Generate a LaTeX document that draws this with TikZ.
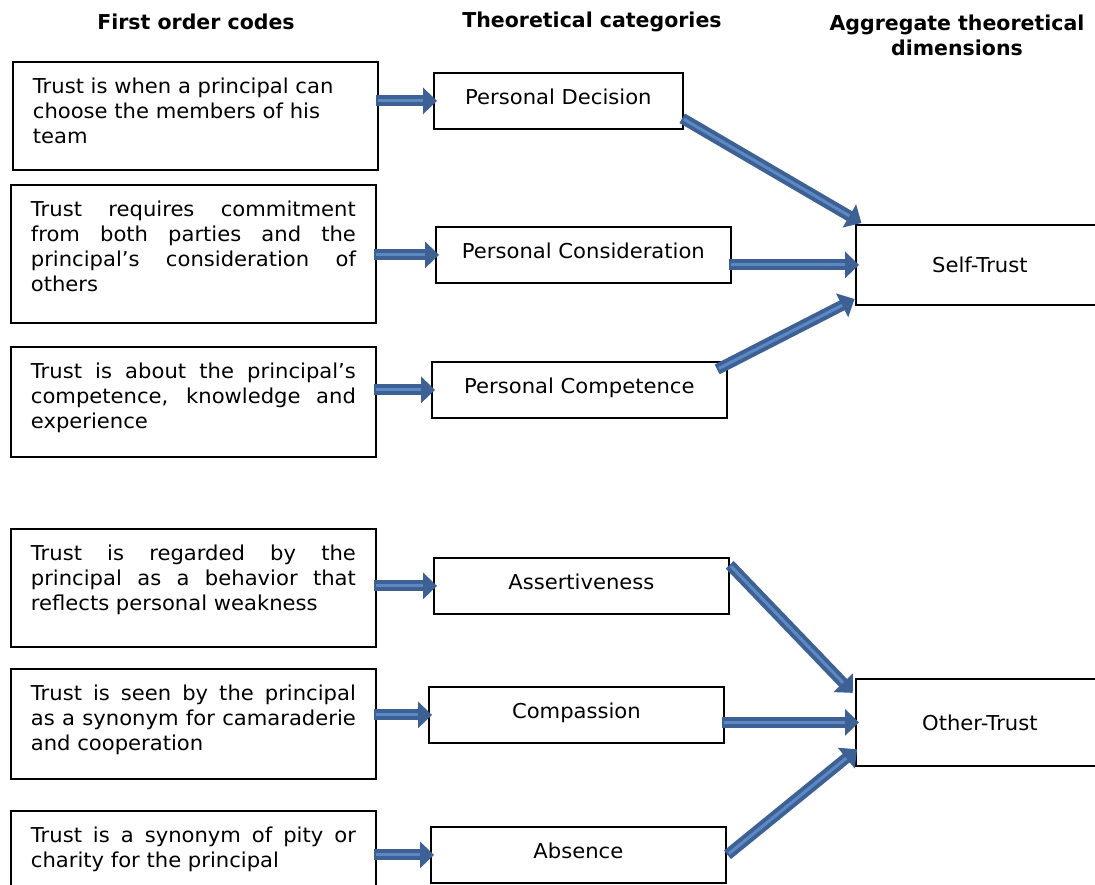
\documentclass[tikz,border=0pt]{standalone}
\usepackage{fontspec}
\setmainfont{DejaVu Sans}[UprightFeatures={FakeStretch=1.03}]
\usetikzlibrary{arrows.meta,positioning}
\definecolor{arrowdark}{HTML}{3D6195}
\definecolor{arrowlight}{HTML}{5D89C3}

\begin{document}
\begin{tikzpicture}[x=1pt,y=-1pt,
    every node/.style={font=\fontsize{20.5}{25}\selectfont},
    head/.style={font=\fontsize{20.5}{25}\selectfont\bfseries,align=center},
    codebox/.style={draw,line width=1.8pt,anchor=north west,inner xsep=20pt,inner ysep=14pt},
    catbox/.style={draw,line width=1.8pt,anchor=north west,minimum width=295pt,
      inner ysep=0pt,text height=32pt,text depth=24pt},
    dimbox/.style={draw,line width=1.8pt,anchor=north west,minimum width=248pt},
    flow/.style={line width=11pt,arrowdark,-{Triangle[length=14pt,width=26pt]},
      shorten <=-3pt,shorten >=-4pt,
      postaction={draw=arrowlight,line width=3pt,-,shorten <=-1pt,shorten >=10pt}}]
  \useasboundingbox (0,0) rectangle (1095,885);
  \clip (0,0) rectangle (1095,885);

  % column heads
  \node(h1) at (196,22) [head] {First order codes};
  \node(h2) at (592,22) [head] {Theoretical categories};
  \node(h3) at (957,35) [head] {Aggregate theoretical\\dimensions};

  % first order codes
  \node(c1) at (12,61) [codebox] {\parbox[t][80pt][t]{325pt}{\raggedright\strut Trust is when a principal can\\ choose the members of his\\ team}};
  \node(c2) at (10,184) [codebox] {\parbox[t][110pt][t]{325pt}{\strut Trust requires commitment\linebreak from both parties and the\linebreak principal’s consideration of\linebreak others}};
  \node(c3) at (10,346) [codebox] {\parbox[t][82pt][t]{325pt}{\strut Trust is about the principal’s\linebreak competence, knowledge and\linebreak experience}};
  \node(c4) at (10,528) [codebox] {\parbox[t][90pt][t]{325pt}{\strut Trust is regarded by the\linebreak principal as a behavior that\linebreak reflects personal weakness}};
  \node(c5) at (10,668) [codebox] {\parbox[t][82pt][t]{325pt}{\strut Trust is seen by the principal\linebreak as a synonym for camaraderie\linebreak and cooperation}};
  \node(c6) at (10,810) [codebox] {\parbox[t][82pt][t]{325pt}{\strut Trust is a synonym of pity or\linebreak charity for the principal}};

  % theoretical categories
  \node(m1) at (433,72) [catbox,minimum width=249pt] {Personal Decision};
  \node(m2) at (435,226) [catbox] {Personal Consideration};
  \node(m3) at (431,361) [catbox] {Personal Competence};
  \node(m4) at (433,557) [catbox] {Assertiveness};
  \node(m5) at (428,686) [catbox] {Compassion};
  \node(m6) at (430,826) [catbox] {Absence};

  % aggregate dimensions
  \node(st) at (855,224) [dimbox,minimum height=80pt] {Self-Trust};
  \node(ot) at (855,678) [dimbox,minimum height=87pt] {Other-Trust};

  \draw (c1.east |- m1.west) edge[flow] (m1.west);
  \draw (c2.east |- m2.west) edge[flow] (m2.west);
  \draw (c3.east |- m3.west) edge[flow] (m3.west);
  \draw (c4.east |- m4.west) edge[flow] (m4.west);
  \draw (c5.east |- m5.west) edge[flow] (m5.west);
  \draw (c6.east |- m6.west) edge[flow] (m6.west);

  \draw ([shift={(1,-10)}]m1.south east) edge[flow] ([shift={(3,-3)}]st.north west);
  \draw (m2.east |- st.west) edge[flow] (st.west);
  \draw ([shift={(-8,7)}]m3.north east) edge[flow] ([shift={(-4,-5)}]st.south west);
  \draw ([shift={(2,10)}]m4.north east) edge[flow] ([shift={(-5,12)}]ot.north west);
  \draw (m5.east |- ot.west) edge[flow] (ot.west);
  \draw ([shift={(3,-2)}]m6.east) edge[flow] ([shift={(-1,-15)}]ot.south west);
\end{tikzpicture}
\end{document}
